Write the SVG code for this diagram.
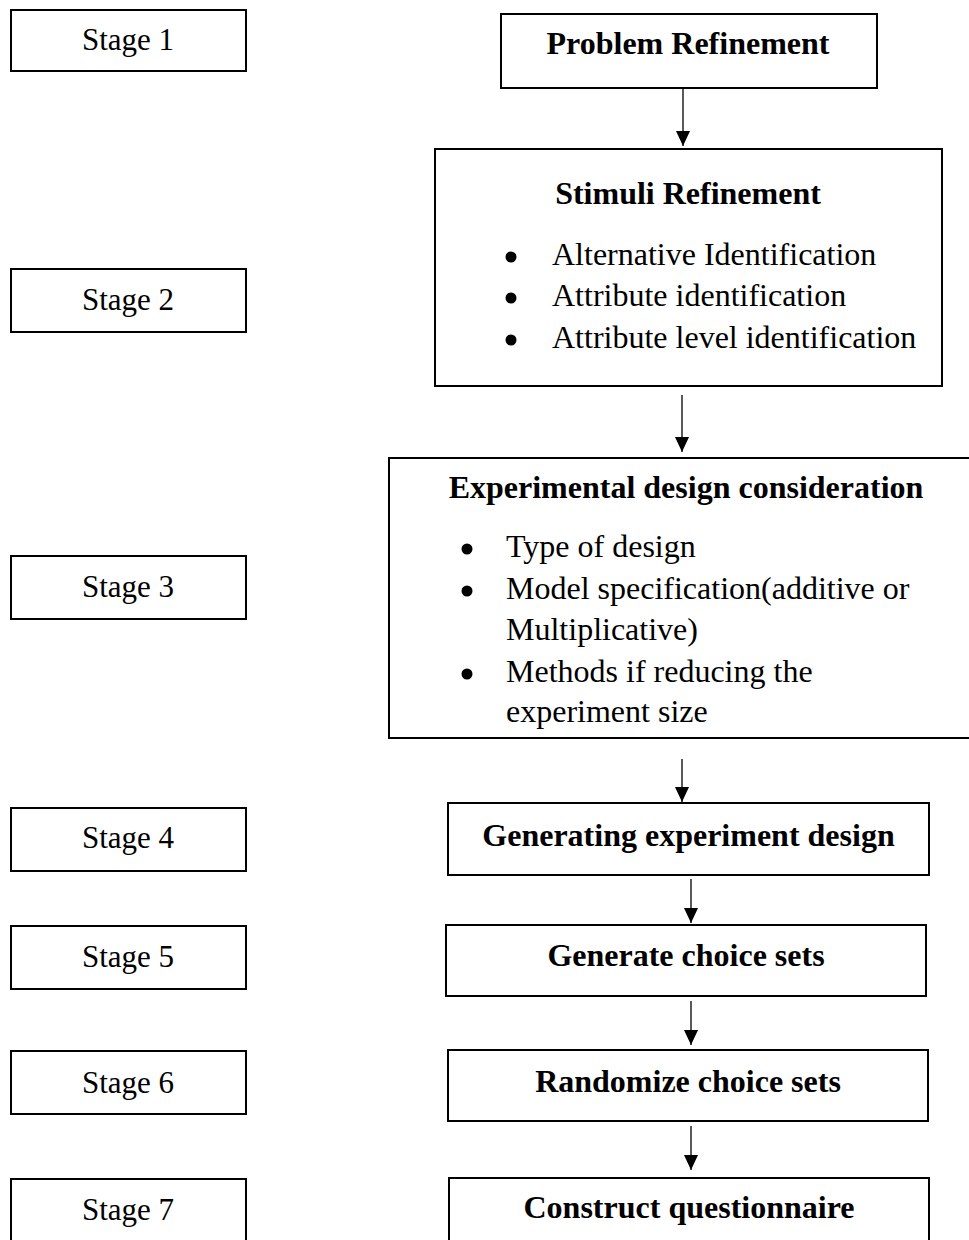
<svg xmlns="http://www.w3.org/2000/svg" width="969" height="1240" viewBox="0 0 969 1240">
<style>
  .box { fill: #ffffff; stroke: #000000; stroke-width: 2; }
  .t { font-family: "Liberation Serif", "Times New Roman", serif; font-size: 31px; fill: #000; }
  .c { text-anchor: middle; }
  .b { font-weight: bold; font-size: 32px; }
  .r { font-size: 32px; }
  .dot { fill: #000; }
  .conn { stroke: #000; stroke-width: 1.3; fill: none; }
</style>
<defs>
  <marker id="arr" viewBox="0 0 15 14" refX="15" refY="7" markerWidth="15" markerHeight="14" markerUnits="userSpaceOnUse" orient="auto">
    <path d="M0,0 L15,7 L0,14 Z" fill="#000"/>
  </marker>
</defs>
<rect width="969" height="1240" fill="#ffffff"/>

<g id="stage1"><rect class="box" x="11" y="10" width="235" height="61"/><text class="t c" x="128" y="50">Stage 1</text></g>
<g id="stage2"><rect class="box" x="11" y="269" width="235" height="63"/><text class="t c" x="128" y="310">Stage 2</text></g>
<g id="stage3"><rect class="box" x="11" y="556" width="235" height="63"/><text class="t c" x="128" y="597">Stage 3</text></g>
<g id="stage4"><rect class="box" x="11" y="808" width="235" height="63"/><text class="t c" x="128" y="848">Stage 4</text></g>
<g id="stage5"><rect class="box" x="11" y="926" width="235" height="63"/><text class="t c" x="128" y="967">Stage 5</text></g>
<g id="stage6"><rect class="box" x="11" y="1051" width="235" height="63"/><text class="t c" x="128" y="1093">Stage 6</text></g>
<g id="stage7"><rect class="box" x="11" y="1179" width="235" height="70"/><text class="t c" x="128" y="1220">Stage 7</text></g>

<g id="problem"><rect class="box" x="501" y="14" width="376" height="74"/><text class="t c b" x="688" y="54">Problem Refinement</text></g>

<g id="stimuli">
  <rect class="box" x="435" y="149" width="507" height="237"/>
  <text class="t c b" x="688" y="204">Stimuli Refinement</text>
  <circle class="dot" cx="511" cy="257" r="5.5"/><text class="t r" x="552" y="265">Alternative Identification</text>
  <circle class="dot" cx="511" cy="298" r="5.5"/><text class="t r" x="552" y="306">Attribute identification</text>
  <circle class="dot" cx="511" cy="340" r="5.5"/><text class="t r" x="552" y="348">Attribute level identification</text>
</g>

<g id="experimental">
  <rect class="box" x="389" y="458" width="590" height="280"/>
  <text class="t c b" x="686" y="498">Experimental design consideration</text>
  <circle class="dot" cx="467" cy="549" r="5.5"/><text class="t r" x="506" y="557">Type of design</text>
  <circle class="dot" cx="467" cy="591" r="5.5"/><text class="t r" x="506" y="599">Model specification(additive or</text>
  <text class="t r" x="506" y="640">Multiplicative)</text>
  <circle class="dot" cx="467" cy="674" r="5.5"/><text class="t r" x="506" y="682">Methods if reducing the</text>
  <text class="t r" x="506" y="722">experiment size</text>
</g>

<g id="generating"><rect class="box" x="448" y="803" width="481" height="72"/><text class="t c b" x="688.5" y="846">Generating experiment design</text></g>
<g id="choicesets"><rect class="box" x="446" y="925" width="480" height="71"/><text class="t c b" x="686" y="966">Generate choice sets</text></g>
<g id="randomize"><rect class="box" x="448" y="1050" width="480" height="71"/><text class="t c b" x="688" y="1092">Randomize choice sets</text></g>
<g id="construct"><rect class="box" x="449" y="1178" width="480" height="80"/><text class="t c b" x="689" y="1218">Construct questionnaire</text></g>

<g id="connectors">
  <line class="conn" x1="683" y1="89" x2="683" y2="146" marker-end="url(#arr)"/>
  <line class="conn" x1="682" y1="395" x2="682" y2="452" marker-end="url(#arr)"/>
  <line class="conn" x1="682" y1="759" x2="682" y2="802" marker-end="url(#arr)"/>
  <line class="conn" x1="691" y1="879" x2="691" y2="923" marker-end="url(#arr)"/>
  <line class="conn" x1="691" y1="1001" x2="691" y2="1045" marker-end="url(#arr)"/>
  <line class="conn" x1="691" y1="1126" x2="691" y2="1170" marker-end="url(#arr)"/>
</g>
</svg>
